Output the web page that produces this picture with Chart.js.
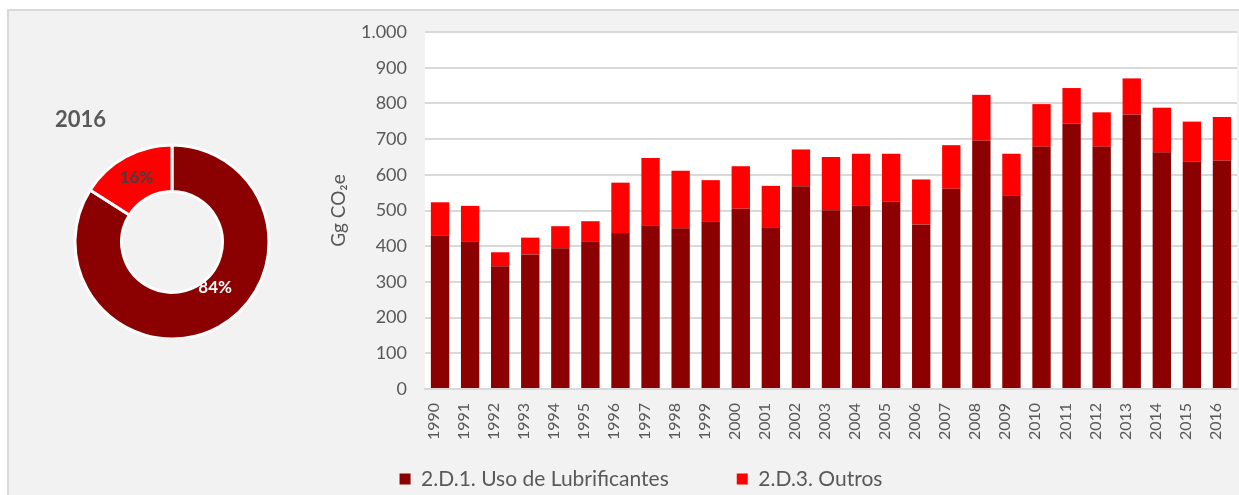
<!DOCTYPE html>
<html>
<head>
<meta charset="utf-8">
<script src="https://cdn.jsdelivr.net/npm/chart.js@4"></script>
<style>
	html, body { margin: 0; padding: 0; overflow: hidden; background: #ffffff; }
	#frame {
		position: absolute; left: 7px; top: 9px; width: 1232px; height: 486px;
		background: #f2f2f2; border-left: 2px solid #d9d9d9; border-top: 2px solid #d9d9d9;
	}
	#barWrap { position: absolute; left: 0; top: 0; width: 1239px; height: 500px; }
	#donutWrap { position: absolute; left: 55px; top: 107px; width: 234px; height: 231px; }
</style>
</head>
<body>
<div id="frame"></div>
<div id="barWrap"><canvas id="barChart"></canvas></div>
<div id="donutWrap"><canvas id="donutChart"></canvas></div>
<script>
const years = [
	"1990", "1991", "1992", "1993", "1994", "1995", "1996", "1997", "1998",
	"1999", "2000", "2001", "2002", "2003", "2004", "2005", "2006", "2007",
	"2008", "2009", "2010", "2011", "2012", "2013", "2014", "2015", "2016",
];
const lubrificantes = [
	429, 414, 344, 377, 394, 414, 437, 459, 450,
	470, 505, 453, 568, 501, 515, 525, 461, 561,
	696, 541, 679, 743, 679, 769, 663, 637, 640,
];
const outros = [
	94, 99, 39, 47, 62, 56, 141, 188, 161,
	115, 119, 116, 103, 149, 144, 134, 126, 122,
	128, 118, 119, 100, 96, 101, 125, 112, 122,
];
const seriesNames = ["2.D.1. Uso de Lubrificantes", "2.D.3. Outros"];
const yTicks = [0, 100, 200, 300, 400, 500, 600, 700, 800, 900, 1000];
const donutYear = "2016";

const darkRed = "#8b0000";
const red = "#ff0000";
const textGray = "#595959";

Chart.defaults.font.family = "Lato, 'Open Sans', sans-serif";
Chart.defaults.color = textGray;
Chart.defaults.animation = false;

function formatTick(value) {
	if (value >= 1000) {
		const s = String(value);
		return s.slice(0, s.length - 3) + "." + s.slice(-3);
	}
	return String(value);
}

const plotBackground = {
	id: "plotBackground",
	beforeDraw(chart) {
		const { ctx, chartArea } = chart;
		ctx.save();
		ctx.fillStyle = "#ffffff";
		ctx.fillRect(chartArea.left, chartArea.top, chartArea.right - chartArea.left, chartArea.bottom - chartArea.top);
		ctx.restore();
	},
};

new Chart(document.getElementById("barChart"), {
	type: "bar",
	data: {
		labels: years,
		datasets: [
			{ label: seriesNames[0], data: lubrificantes, backgroundColor: darkRed },
			{ label: seriesNames[1], data: outros, backgroundColor: red },
		],
	},
	options: {
		responsive: true,
		maintainAspectRatio: false,
		datasets: {
			bar: { barPercentage: 0.61, categoryPercentage: 1 },
		},
		layout: {
			padding: { left: 45, right: 2, top: 32, bottom: 0.5 },
		},
		plugins: {
			legend: {
				position: "bottom",
				labels: {
					boxWidth: 11,
					boxHeight: 11,
					padding: 68,
					color: textGray,
					font: { size: 21 },
				},
			},
			tooltip: { enabled: false },
		},
		scales: {
			x: {
				stacked: true,
				grid: { display: false, drawTicks: false },
				border: { display: true, color: "#d9d9d9", width: 2 },
				ticks: {
					// mirror keeps the labels unclipped below the short axis box
					mirror: true,
					minRotation: 90,
					maxRotation: 90,
					padding: -14,
					labelOffset: 13,
					color: textGray,
					font: { size: 16 },
				},
				afterFit(scale) {
					scale.height = 11.5;
				},
			},
			y: {
				stacked: true,
				min: 0,
				max: 1000,
				afterBuildTicks(scale) {
					scale.ticks = yTicks.map((v) => ({ value: v }));
				},
				grid: { color: "#d9d9d9", lineWidth: 2, drawTicks: false },
				border: { display: false },
				ticks: {
					padding: 18,
					color: textGray,
					font: { size: 18 },
					callback: (value) => formatTick(value),
				},
				title: {
					display: true,
					text: "Gg CO₂e",
					color: textGray,
					font: { size: 19 },
					padding: { top: 282, bottom: 0 },
				},
				afterFit(scale) {
					scale.width = 380;
				},
			},
		},
	},
	plugins: [plotBackground],
});

// doughnut for the last year
const lastIndex = years.indexOf(donutYear);
const donutValues = [lubrificantes[lastIndex], outros[lastIndex]];
const donutTotal = donutValues[0] + donutValues[1];
const labelColors = ["#ffffff", "#404040"];
const labelAnchors = [
	{ angle: 0.451, radius: 0.26 },
	{ angle: 0.5, radius: 0.5 },
];

const sliceLabels = {
	id: "sliceLabels",
	afterDatasetsDraw(chart) {
		const { ctx } = chart;
		const meta = chart.getDatasetMeta(0);
		ctx.save();
		ctx.font = "bold 17px Lato, 'Open Sans', sans-serif";
		ctx.textAlign = "center";
		ctx.textBaseline = "middle";
		meta.data.forEach((arc, i) => {
			const p = arc.getProps(["x", "y", "startAngle", "endAngle", "innerRadius", "outerRadius"]);
			const a = p.startAngle + labelAnchors[i].angle * (p.endAngle - p.startAngle);
			const r = p.innerRadius + labelAnchors[i].radius * (p.outerRadius - p.innerRadius);
			const pct = Math.round((donutValues[i] / donutTotal) * 100) + "%";
			ctx.fillStyle = labelColors[i];
			ctx.fillText(pct, p.x + Math.cos(a) * r, p.y + Math.sin(a) * r);
		});
		ctx.restore();
	},
};

new Chart(document.getElementById("donutChart"), {
	type: "doughnut",
	data: {
		labels: seriesNames,
		datasets: [
			{
				data: donutValues,
				backgroundColor: [darkRed, red],
				borderColor: "#ffffff",
				borderWidth: 3,
				hoverOffset: 0,
				offset: 0,
			},
		],
	},
	options: {
		responsive: true,
		maintainAspectRatio: false,
		radius: 97,
		cutout: "52%",
		layout: { padding: 0 },
		plugins: {
			legend: { display: false },
			tooltip: { enabled: false },
			title: {
				display: true,
				text: donutYear,
				align: "start",
				color: textGray,
				font: { size: 22, weight: "bold" },
				padding: { top: 0, bottom: 12.6 },
			},
		},
	},
	plugins: [sliceLabels],
});
</script>
</body>
</html>
